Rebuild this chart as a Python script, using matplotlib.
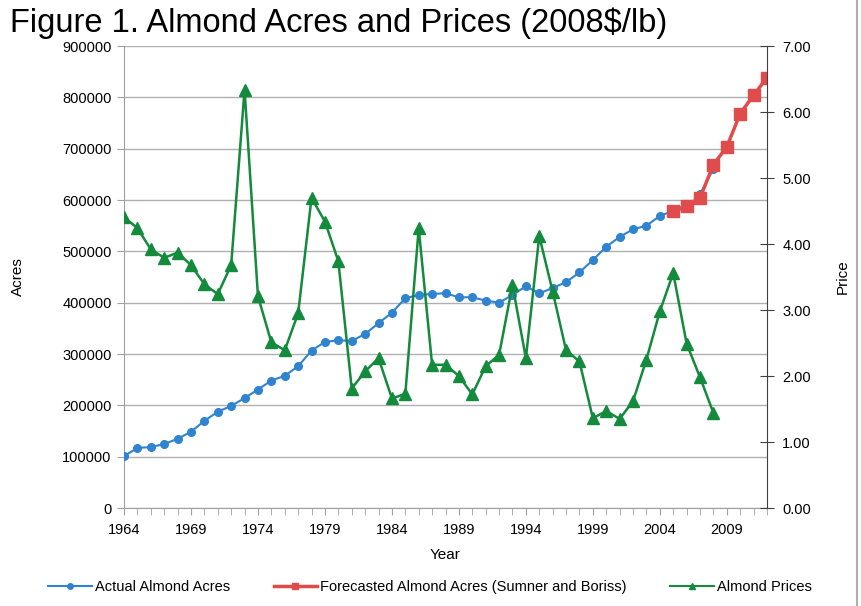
import matplotlib.pyplot as plt
from matplotlib.lines import Line2D

plt.rcParams['font.family'] = ['Liberation Sans', 'DejaVu Sans']

years = list(range(1964, 2013))

actual_years = list(range(1964, 2009))
actual_acres = [101000, 117000, 118700, 124500, 134800, 148400, 169800, 187400, 199000, 214000,
                230800, 248300, 257400, 276200, 306700, 323500, 326800, 325500, 339000, 360000,
                380500, 408600, 415000, 417000, 418300, 410500, 410500, 404000, 400000, 415000,
                432000, 418000, 428600, 440000, 459000, 483000, 509000, 528000, 543000, 550000,
                569000, 579000, 583600, 611000, 661000]

forecast_years = list(range(2005, 2013))
forecast_acres = [579000, 588700, 604000, 669000, 703500, 768500, 804000, 838500]

price_years = list(range(1964, 2009))
prices = [4.41, 4.24, 3.92, 3.79, 3.87, 3.68, 3.39, 3.24, 3.68, 6.34,
          3.21, 2.51, 2.39, 2.95, 4.70, 4.34, 3.74, 1.81, 2.07, 2.27,
          1.66, 1.73, 4.24, 2.17, 2.17, 2.00, 1.72, 2.15, 2.32, 3.38,
          2.27, 4.12, 3.28, 2.39, 2.22, 1.36, 1.47, 1.35, 1.62, 2.25,
          2.98, 3.56, 2.49, 1.98, 1.44]

blue = '#2f83cf'
red = '#e04b4b'
green = '#138a3c'

fig = plt.figure(figsize=(8.61, 6.06), dpi=100)
ax = fig.add_axes([124 / 861, 1 - 508 / 606, 643 / 861, 462 / 606])
ax2 = ax.twinx()

ax.plot(actual_years, actual_acres, color=blue, marker='o', markersize=5.5, linewidth=1.5, zorder=3)
ax.plot(forecast_years, forecast_acres, color=red, marker='s', markersize=8.5, linewidth=2.5, zorder=4)
ax2.plot(price_years, prices, color=green, marker='^', markersize=8.5, linewidth=1.8, zorder=5)

ax.set_xlim(1964, 2012)
ax.set_ylim(0, 900000)
ax2.set_ylim(0, 7)

ax.set_yticks(range(0, 900001, 100000))
ax.set_yticklabels([str(v) for v in range(0, 900001, 100000)])
ax2.set_yticks(range(0, 8))
ax2.set_yticklabels([f"{v:.2f}" for v in range(0, 8)])
ax.set_xticks(years, minor=True)
ax.set_xticks(list(range(1964, 2013, 5)))

ax.grid(axis='y', color='#b0b0b0', linewidth=1)
ax.set_axisbelow(True)

for a in (ax, ax2):
    a.spines['top'].set_visible(False)
ax.spines['right'].set_visible(False)
ax.spines['left'].set_color('#a0a0a0')
ax.spines['bottom'].set_color('#a0a0a0')
ax2.spines['left'].set_visible(False)
ax2.spines['bottom'].set_visible(False)
ax2.spines['right'].set_color('#404040')

ax.tick_params(axis='y', labelsize=10.5, length=5, color='#a0a0a0', pad=4)
ax.tick_params(axis='x', which='both', labelsize=10.5, length=5, color='#a0a0a0', pad=6)
ax2.tick_params(axis='y', labelsize=10.5, direction='inout', length=10, color='#404040', pad=6)

ax.set_xlabel('Year', fontsize=11, labelpad=8)
ax.set_ylabel('Acres', fontsize=11, labelpad=27)
ax2.set_ylabel('Price', fontsize=11, labelpad=18)

fig.text(10 / 861, 1 - 23 / 606, 'Figure 1. Almond Acres and Prices (2008$/lb)',
         fontsize=23.5, va='center', ha='left')

handles = [
    Line2D([], [], color=blue, marker='o', markersize=4, linewidth=1.5),
    Line2D([], [], color=red, marker='s', markersize=5, linewidth=2.5),
    Line2D([], [], color=green, marker='^', markersize=5, linewidth=1.5),
]
labels = ['Actual Almond Acres', 'Forecasted Almond Acres (Sumner and Boriss)', 'Almond Prices']
fig.legend(handles, labels, loc='center', bbox_to_anchor=(430 / 861, 1 - 587 / 606), ncol=3,
           frameon=False, fontsize=10.5, handlelength=3.0, handletextpad=0.2, columnspacing=3.0)

fig.add_artist(Line2D([857 / 861, 857 / 861], [0, 1], color='#b0b0b0', linewidth=1.5))

fig.savefig('out.png', dpi=100)
